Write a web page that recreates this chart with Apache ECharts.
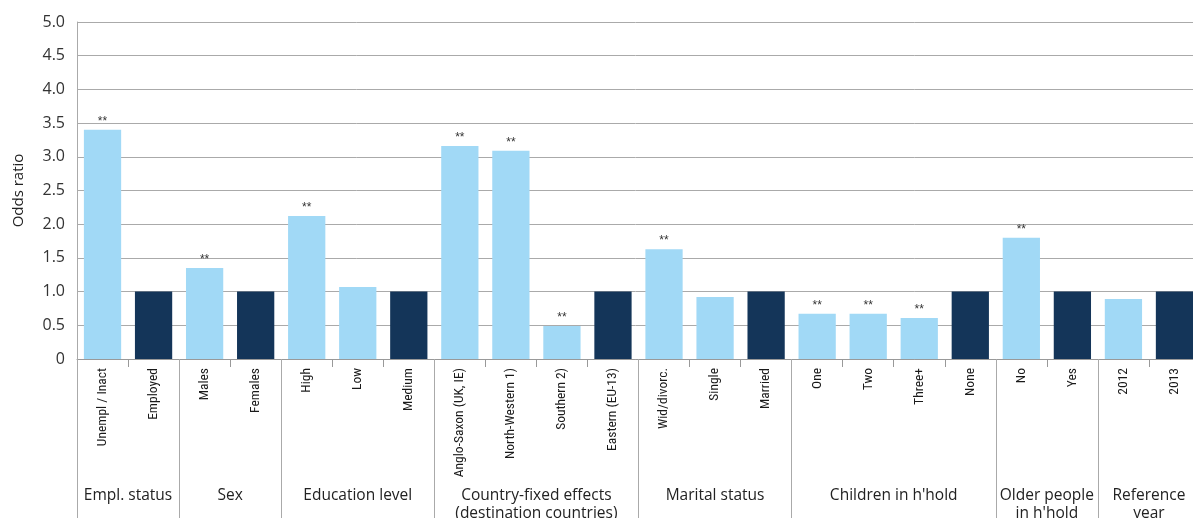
<!DOCTYPE html>
<html>
<head>
<meta charset="utf-8">
<script src="https://cdn.jsdelivr.net/npm/echarts@6/dist/echarts.min.js"></script>
<style>
html,body{margin:0;padding:0;background:#fff;}
#chart{width:1193px;height:518px;}
</style>
</head>
<body>
<div id="chart"></div>
<script>
const categories = ['Unempl / Inact','Employed','Males','Females','High','Low','Medium',
  'Anglo-Saxon (UK, IE)','North-Western 1)','Southern 2)','Eastern (EU-13)',
  'Wid/divorc.','Single','Married','One','Two','Three+','None','No','Yes','2012','2013'];
const values = [3.40,1.00,1.35,1.00,2.12,1.07,1.00,3.16,3.09,0.49,1.00,1.63,0.92,1.00,0.67,0.67,0.61,1.00,1.80,1.00,0.89,1.00];
const isReference = [0,1,0,1,0,0,1,0,0,0,1,0,0,1,0,0,0,1,0,1,0,1];
const significance = ['**','','**','','**','','','**','**','**','','**','','','**','**','**','','**','','',''];
const groupNames = ['Empl. status','Sex','Education level','Country-fixed effects\n(destination countries)','Marital status',"Children in h'hold","Older people\nin h'hold",'Reference\nyear'];
const groupSizes = [2,2,3,4,3,4,2,2];
const yTicks = [0,0.5,1,1.5,2,2.5,3,3.5,4,4.5,5];

const LIGHT = '#A1D9F6', DARK = '#143559';
const boundaries = [0];
const centers = [];
groupSizes.forEach(s => { const b = boundaries[boundaries.length-1]; centers.push(b + s/2); boundaries.push(b + s); });

const chart = echarts.init(document.getElementById('chart'));
chart.setOption({
  animation: false,
  grid: {left: 77, right: -7, top: 22, bottom: 159, containLabel: false, outerBoundsMode: 'none'},
  xAxis: [{
    type: 'category',
    data: categories,
    axisLine: {lineStyle: {color: '#999', width: 1}},
    axisTick: {show: true, length: 8, interval: 0, lineStyle: {color: '#999'}},
    axisLabel: {rotate: 90, interval: 0, margin: 9, fontSize: 13.5,
      fontFamily: '"Roboto Condensed","Liberation Sans Narrow",sans-serif', color: '#1a1a1a'}
  }, {
    type: 'value',
    position: 'bottom',
    min: 0, max: categories.length,
    splitLine: {show: false},
    axisLine: {show: false},
    axisTick: {show: true, customValues: boundaries, length: 159, lineStyle: {color: '#aaa', width: 1}},
    axisLabel: {customValues: centers, margin: 128, fontSize: 15.5, lineHeight: 18,
      fontFamily: '"Open Sans","DejaVu Sans",sans-serif', color: '#222',
      formatter: v => groupNames[centers.indexOf(v)]}
  }],
  yAxis: {
    type: 'value', min: 0, max: 5, interval: 0.5,
    name: 'Odds ratio', nameLocation: 'middle', nameGap: 51,
    nameTextStyle: {fontSize: 15, color: '#222', fontFamily: '"Open Sans","DejaVu Sans",sans-serif'},
    axisLine: {show: true, lineStyle: {color: '#aaa'}},
    axisTick: {show: false},
    splitLine: {lineStyle: {color: '#aaa', width: 1}},
    axisLabel: {fontSize: 16, color: '#333', margin: 12,
      fontFamily: '"Open Sans","DejaVu Sans",sans-serif',
      formatter: v => v === 0 ? '0' : v.toFixed(1)}
  },
  series: [{
    type: 'bar',
    xAxisIndex: 0,
    barWidth: '73%',
    data: values.map((v, i) => ({value: v, itemStyle: {color: isReference[i] ? DARK : LIGHT}})),
    label: {show: true, position: 'top', distance: 2, fontSize: 12, color: '#333',
      formatter: p => significance[p.dataIndex]}
  }]
});
</script>
</body>
</html>
